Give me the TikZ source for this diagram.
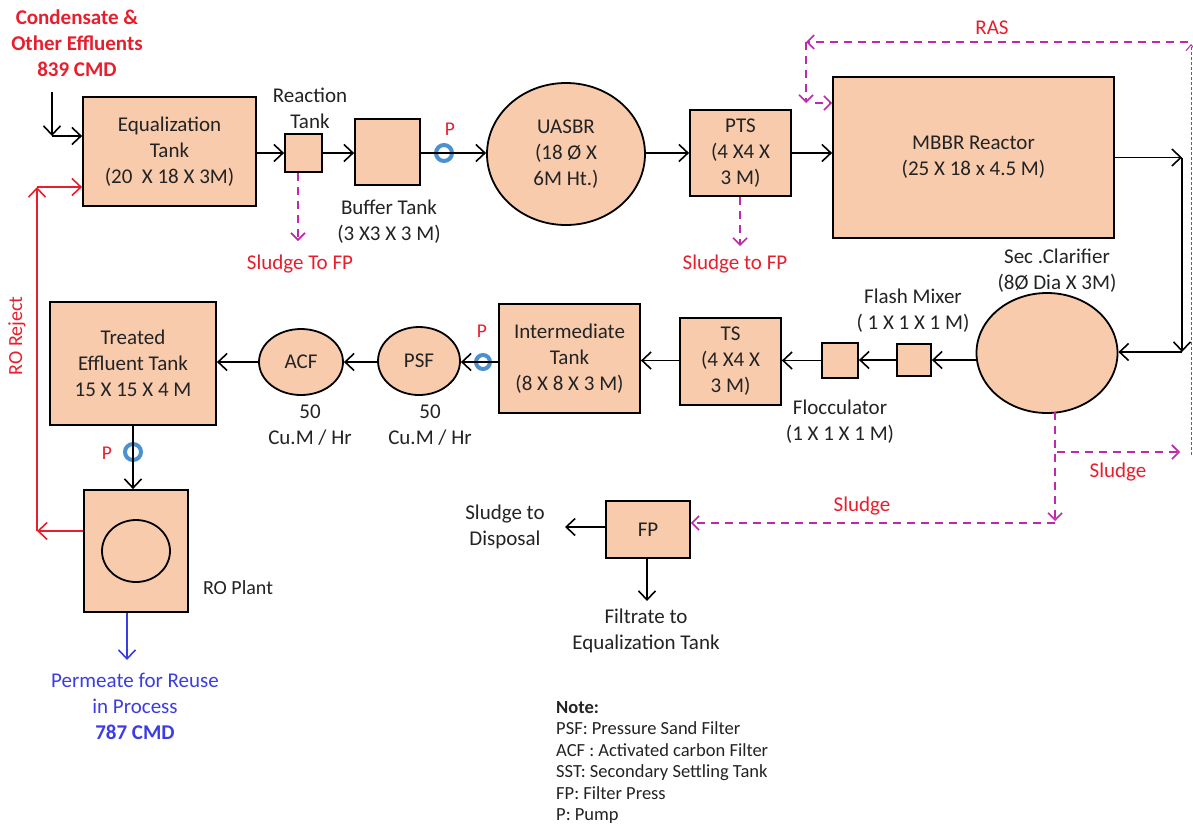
\documentclass[tikz,border=0pt]{standalone}
\usepackage{fontspec}
\setmainfont{Carlito}
\usetikzlibrary{arrows.meta,shapes.geometric}
\definecolor{peach}{RGB}{248,203,173}
\definecolor{lred}{RGB}{232,30,45}
\definecolor{mag}{RGB}{190,40,170}
\definecolor{pblue}{RGB}{75,145,205}
\definecolor{permblue}{RGB}{60,60,230}
\definecolor{txt}{RGB}{35,35,35}
\begin{document}
\begin{tikzpicture}[x=1pt,y=-1pt,
  every node/.style={font=\fontsize{21}{26}\selectfont, text=txt},
  box/.style={draw=black, fill=peach, line width=1.8pt, inner sep=0pt, align=center},
  oval/.style={ellipse, draw=black, fill=peach, line width=1.8pt, inner sep=0pt, align=center},
  lbl/.style={align=center, inner sep=0pt},
  redlbl/.style={align=center, inner sep=0pt, text=lred},
  small/.style={font=\fontsize{19.5}{24}\selectfont},
  arr/.style={-{Straight Barb[length=9pt,width=17pt,line width=1.6pt]}, line width=1.6pt, draw=black},
  redarr/.style={arr, draw=lred},
  bluearr/.style={arr, draw=permblue},
  dasharr/.style={-{Straight Barb[length=7pt,width=14pt,line width=1.6pt]}, draw=mag, dash pattern=on 8pt off 6pt, line width=1.8pt},
  thindash/.style={-{Straight Barb[length=6pt,width=10pt,line width=1pt]}, draw=mag, dash pattern=on 3pt off 2pt, line width=0.9pt},
  pump/.style={circle, draw=pblue, line width=4pt, minimum size=16pt, inner sep=0pt},
]
\useasboundingbox (0,0) rectangle (1193,828);
\fill[white] (0,0) rectangle (1193,828);

% ---------- top row ----------
\node[redlbl, font=\fontsize{21}{26}\selectfont\bfseries] (cond) at (77,43) {Condensate \&\\Other Effluents\\839 CMD};
\node[box, minimum width=173pt, minimum height=109pt] (eq) at (169.5,151.5) {Equalization\\Tank\\(20\ \ X 18 X 3M)};
\node[box, minimum width=37pt, minimum height=38pt] (rt) at (303.5,153) {};
\node[lbl] (rtl) at (310,108) {Reaction\\Tank};
\node[box, minimum width=65pt, minimum height=66pt] (buf) at (387.5,152) {};
\node[lbl] (bufl) at (389,222) {Buffer Tank\\(3 X3 X 3 M)};
\node[pump] (p1) at (444,153) {};
\node[redlbl, small] (p1l) at (450,129) {P};
\node[oval, minimum width=158pt, minimum height=142pt] (uasbr) at (566,154) {UASBR\\(18 Ø X\\6M Ht.)};
\node[box, minimum width=101pt, minimum height=86pt] (pts) at (740.5,153) {PTS\\(4 X4 X\\3 M)};
\node[box, minimum width=281pt, minimum height=161pt] (mbbr) at (973.5,157.5) {MBBR Reactor\\(25 X 18 x 4.5 M)};
\node[redlbl] (sl1) at (300,264) {Sludge To FP};
\node[redlbl] (sl2) at (735,264) {Sludge to FP};
\node[redlbl] (ras) at (992,28) {RAS};

% ---------- middle row ----------
\node[lbl] (clarl) at (1057,271) {Sec .Clarifier\\(8Ø Dia X 3M)};
\node[oval, minimum width=141pt, minimum height=120pt] (clar) at (1047,353) {};
\node[box, minimum width=34pt, minimum height=32pt] (fm) at (914,360) {};
\node[lbl] (fml) at (913,311) {Flash Mixer\\( 1 X 1 X 1 M)};
\node[box, minimum width=36pt, minimum height=35pt] (floc) at (840,360.5) {};
\node[lbl] (flocl) at (840,422) {Flocculator\\(1 X 1 X 1 M)};
\node[box, minimum width=101pt, minimum height=87pt] (ts) at (730.5,361.5) {TS\\(4 X4 X\\3 M)};
\node[box, minimum width=141pt, minimum height=109pt] (it) at (569.5,358.5) {Intermediate\\Tank\\(8 X 8 X 3 M)};
\node[pump, minimum size=14pt] (p2) at (483,362) {};
\node[redlbl, small] (p2l) at (482,331) {P};
\node[oval, minimum width=82pt, minimum height=68pt] (psf) at (419,361) {PSF};
\node[lbl] (psfl) at (430,425) {50\\Cu.M / Hr};
\node[oval, minimum width=84pt, minimum height=66pt] (acf) at (301,362) {ACF};
\node[lbl] (acfl) at (310,425) {50\\Cu.M / Hr};
\node[box, minimum width=166pt, minimum height=123pt] (te) at (133,363.5) {Treated\\Effluent Tank\\15 X 15 X 4 M};
\node[pump] (p3) at (133,452) {};
\node[redlbl, small] (p3l) at (107,453) {P};
\node[redlbl, rotate=90, font=\fontsize{20}{24}\selectfont] (rorej) at (17,336) {RO Reject};

% ---------- bottom ----------
\node[box, minimum width=104pt, minimum height=122pt] (ro) at (136,551) {};
\node[ellipse, draw=black, line width=1.8pt, minimum width=68pt, minimum height=62pt] (roin) at (136,551) {};
\node[lbl, font=\fontsize{20}{24}\selectfont] (rol) at (238,588) {RO Plant};
\node[lbl, text=permblue] (perm) at (135,706) {Permeate for Reuse\\in Process\\\textbf{787 CMD}};
\node[box, minimum width=84pt, minimum height=57pt] (fp) at (648,529.5) {FP};
\node[lbl] (disp) at (505,527) {Sludge to\\Disposal};
\node[lbl] (filt) at (646,631) {Filtrate to\\Equalization Tank};
\node[redlbl] (sl3) at (862,506) {Sludge};
\node[redlbl] (sl4) at (1118,472) {Sludge};
\node[lbl, align=left, anchor=north west, font=\fontsize{18.5}{21.5}\selectfont] (note) at (556,701)
  {\textbf{Note:}\\PSF: Pressure Sand Filter\\ACF : Activated carbon Filter\\SST: Secondary Settling Tank\\FP: Filter Press\\P: Pump};

% ---------- connectors ----------
\coordinate (in1) at (52,92);
\coordinate (in2) at (52,136);
\draw[arr] (in1) -- (in2);
\draw[arr] (in2) -- (eq.west |- in2);
\draw[arr] (eq.east |- rt.west) -- (rt.west);
\draw[arr] (rt.east) -- (buf.west |- rt.east);
\draw[arr] (buf.east |- p1) -- (uasbr.west |- p1);
\draw[arr] (uasbr.east |- pts.west) -- (pts.west);
\draw[arr] (pts.east) -- (mbbr.west |- pts.east);
\coordinate (c1) at (1182,157.5);
\coordinate (c2) at (1182,352);
\draw[arr] (mbbr.east) -- (c1);
\draw[arr] (c1) -- (c2);
\draw[arr] (c2) -- (clar.east |- c2);
\draw[arr] (clar.west |- fm.east) -- (fm.east);
\draw[arr] (fm.west) -- (floc.east |- fm.west);
\draw[arr] (floc.west) -- (ts.east |- floc.west);
\draw[arr] (ts.west |- floc.west) -- (it.east |- floc.west);
\draw[arr] (it.west |- p2) -- (psf.east |- p2);
\draw[arr] (psf.west |- acf.east) -- (acf.east);
\draw[arr] (acf.west) -- (te.east |- acf.west);
\draw[arr] (te.south) -- (ro.north -| te.south);
\coordinate (r1) at (37,531);
\coordinate (r2) at (37,187);
\draw[redarr] (ro.west |- r1) -- (r1);
\draw[redarr] (r1) -- (r2);
\draw[redarr] (r2) -- (eq.west |- r2);
\coordinate (pm) at (127,660);
\draw[bluearr] (ro.south -| pm) -- (pm);
\draw[arr] (fp.west |- disp) -- (565,527);
\coordinate (fpd) at (647,601);
\draw[arr] (fp.south -| fpd) -- (fpd);

% sludge lines
\coordinate (s1) at (298,241);
\draw[dasharr] (rt.south -| s1) -- (s1);
\coordinate (s2) at (740,246);
\draw[dasharr] (pts.south -| s2) -- (s2);
\coordinate (s3t) at (1055,412);
\coordinate (s3) at (1055,521);
\draw[dasharr] (s3t) -- (s3);
\draw[dasharr] (1055,523) -- (fp.east |- 0,523);
\coordinate (s4) at (1180,452);
\draw[dasharr] (1057,452) -- (s4);
\coordinate (v1) at (1191,455);
\coordinate (v2) at (1191,44);
\draw[thindash] (v1) -- (v2);
\coordinate (ra1) at (1188,42);
\coordinate (ra2) at (806,42);
\coordinate (ra3) at (806,103);
\draw[dasharr] (ra1) -- (ra2);
\draw[dasharr] (ra2) -- (ra3);
\draw[dasharr] (815,103) -- (mbbr.west |- 0,103);

% pumps drawn with line through
\draw[line width=1.6pt] (p2.west) -- (p2.east);
\draw[line width=1.6pt] (p3.north) -- (p3.south);
\end{tikzpicture}
\end{document}
